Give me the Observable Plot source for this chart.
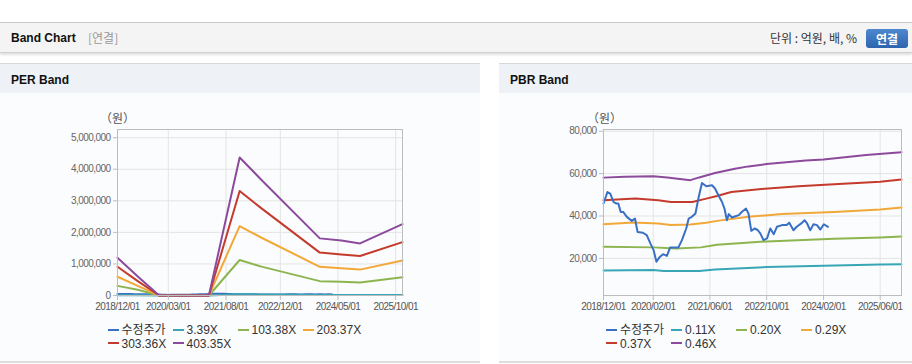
<!DOCTYPE html>
<html><head><meta charset="utf-8">
<script src="https://cdn.jsdelivr.net/npm/d3@7"></script>
<script src="https://cdn.jsdelivr.net/npm/@observablehq/plot@0.6"></script>
<style>
html,body{margin:0;padding:0}
body{width:912px;height:364px;position:relative;background:#fff;overflow:hidden;font-family:"Liberation Sans","Noto Sans CJK KR",sans-serif;color:#222}
.a{position:absolute}
#topbar{left:0;top:22px;width:912px;height:29px;background:#f4f4f4;border-top:1px solid #c8c8c8;border-bottom:1px solid #d0d0d0;box-shadow:0 2px 2px rgba(0,0,0,0.12)}
.title{font-weight:bold;font-size:12px;color:#111;white-space:nowrap}
.sub{font-size:12px;color:#999;white-space:nowrap}
.unit{font-size:12px;color:#333;white-space:nowrap;font-family:"Noto Sans CJK KR","Liberation Sans",sans-serif}
#btn{left:866px;top:29px;width:42px;height:19px;border-radius:3px;background:linear-gradient(#4d88cf,#2e65ae);color:#fff;font-weight:bold;font-size:12px;text-align:center;line-height:19px;font-family:"Noto Sans CJK KR",sans-serif}
.phead{top:63px;height:29px;background:#eef2f7;border-top:1px solid #d8d8d8}
.pbody{top:93px;height:268px;background:#fbfcfd;border-bottom:2px solid #dedede}
.unitlab{font-size:12px;color:#555;white-space:nowrap;font-family:"Noto Sans CJK KR",sans-serif}
.leg{font-size:12px;color:#333;white-space:nowrap;height:14px;line-height:14px}
.leg i{display:inline-block;width:11px;height:2px;vertical-align:middle;margin-right:3px;position:relative;top:-1px}
</style></head>
<body>
<div id="topbar" class="a"></div>
<div class="a title" style="left:11px;top:29px;line-height:18px">Band Chart</div>
<div class="a sub" style="left:88px;top:29px;line-height:18px;font-family:'Noto Sans CJK KR',sans-serif">[연결]</div>
<div class="a unit" style="left:770px;top:29px;line-height:18px">단위 : 억원, 배, %</div>
<div id="btn" class="a">연결</div>

<div class="a phead" style="left:0;width:480px"></div>
<div class="a pbody" style="left:0;width:480px"></div>
<div class="a phead" style="left:499px;width:413px"></div>
<div class="a pbody" style="left:499px;width:413px"></div>
<div class="a title" style="left:11px;top:71px;line-height:18px">PER Band</div>
<div class="a title" style="left:510px;top:71px;line-height:18px">PBR Band</div>
<div class="a unitlab" style="left:100px;top:109px;line-height:18px">（원）</div>
<div class="a unitlab" style="left:587px;top:109px;line-height:18px">（원）</div>

<div id="perChart" class="a" style="left:0;top:100px"></div>
<div id="pbrChart" class="a" style="left:499px;top:100px"></div>

<script>
// ---------- data ----------
const xStart = "2018-12-01", xEnd = "2025-12-01";
const perTickLabels = ["2018-12-01","2020-03-01","2021-08-01","2022-12-01","2024-05-01","2025-10-01"];
const pbrTickLabels = ["2018-12-01","2020-02-01","2021-06-01","2022-10-01","2024-02-01","2025-06-01"];
const perYTicks = [0, 1000000, 2000000, 3000000, 4000000, 5000000];
const pbrYTicks = [20000, 40000, 60000, 80000];

const seriesColors = ["#3a70c4", "#38a6b6", "#8db54f", "#f2a838", "#c43a2c", "#8c4a9c"];
const perNames = ["수정주가", "3.39X", "103.38X", "203.37X", "303.36X", "403.35X"];
const pbrNames = ["수정주가", "0.11X", "0.20X", "0.29X", "0.37X", "0.46X"];

// adjusted share price (원)
const price = [
 ["2018-12-01",45900],["2019-01-04",51300],["2019-01-28",50600],["2019-02-25",46600],["2019-03-19",45900],
 ["2019-04-07",45900],["2019-04-28",41900],["2019-05-19",41900],["2019-06-19",39600],["2019-08-01",37700],
 ["2019-08-28",38800],["2019-09-19",32500],["2019-11-04",32100],["2019-12-07",31000],["2020-01-07",27100],
 ["2020-02-04",23900],["2020-02-28",18400],["2020-03-25",20500],["2020-04-25",22000],["2020-05-28",21200],
 ["2020-06-25",25200],["2020-08-07",25200],["2020-09-04",25200],["2020-10-04",28600],["2020-11-10",34100],
 ["2020-12-01",38800],["2020-12-28",39600],["2021-01-28",41200],["2021-02-25",49000],["2021-03-25",55600],
 ["2021-05-01",54000],["2021-06-19",54500],["2021-07-15",53000],["2021-08-13",49800],["2021-09-13",46600],
 ["2021-10-04",43500],["2021-10-25",38000],["2021-11-10",40900],["2021-12-07",39300],["2022-01-07",39900],
 ["2022-02-04",40400],["2022-03-01",41900],["2022-04-07",43500],["2022-04-28",41200],["2022-05-22",33000],
 ["2022-06-19",34100],["2022-07-16",33400],["2022-08-07",31800],["2022-09-04",28600],["2022-10-04",29400],
 ["2022-11-01",34100],["2022-12-01",31400],["2022-12-28",34900],["2023-02-10",35700],["2023-03-22",35700],
 ["2023-04-13",36800],["2023-05-19",33300],["2023-06-16",34900],["2023-07-25",36500],["2023-08-22",38000],
 ["2023-09-10",36800],["2023-10-10",33300],["2023-11-07",36100],["2023-12-07",35700],["2024-01-04",33600],
 ["2024-02-04",36100],["2024-03-10",34900]
];

// PER band lines (원)
const perDates = ["2018-12-01","2019-06-01","2019-12-10","2021-02-28","2021-12-01","2022-06-15","2023-11-20","2024-06-01","2024-11-15","2025-12-01"];
const per339  = [10000,   5000,   0, 0,   36800,   30800,  15200,  14600,  13900,  19000];
const per10338 = [305000, 180000, 0, 0, 1125000,  915000, 455000, 435000, 410000, 580000];
const per20337 = [595000, 305000, 0, 0, 2200000, 1830000, 910000, 865000, 820000, 1110000];
const per30336 = [910000, 455000, 0, 0, 3310000, 2760000, 1360000, 1300000, 1250000, 1690000];
const per40335 = [1195000, 600000, 0, 0, 4375000, 3660000, 1810000, 1740000, 1650000, 2260000];

// PBR band lines (원)
const pbr011 = [["2018-12-01",14300],["2020-02-01",14500],["2020-05-01",14000],["2021-03-01",14000],["2021-07-15",14800],["2022-10-01",15900],["2024-02-01",16500],["2025-06-01",17100],["2025-12-01",17200]];
const pbr020 = [["2018-12-01",25500],["2020-02-01",25200],["2020-08-15",24700],["2021-03-15",25200],["2021-08-01",26400],["2022-10-01",28000],["2024-05-01",29300],["2025-06-01",29900],["2025-12-01",30300]];
const pbr029 = [["2018-12-01",36100],["2019-08-15",36900],["2020-03-15",36500],["2020-07-01",35700],["2020-12-15",36000],["2021-05-01",36800],["2021-08-01",37700],["2022-04-28",39600],["2023-02-10",40900],["2024-05-01",41900],["2025-06-01",43100],["2025-12-01",44000]];
const pbr037 = [["2018-12-01",47400],["2019-09-01",48200],["2020-03-15",47400],["2020-07-01",46600],["2021-01-01",46600],["2021-05-01",48200],["2021-08-01",49400],["2021-12-01",51300],["2022-09-15",52900],["2023-07-01",54000],["2024-05-01",55000],["2025-06-01",56200],["2025-12-01",57200]];
const pbr046 = [["2018-12-01",58100],["2019-06-01",58500],["2020-02-01",58800],["2020-06-01",58200],["2020-12-15",56900],["2021-03-01",58200],["2021-07-15",60300],["2022-01-01",62300],["2022-04-28",63400],["2022-10-01",64500],["2023-09-01",66200],["2024-02-01",66700],["2025-02-01",68800],["2025-12-01",70100]];

// ---------- build ----------
const D = s => new Date(s);
const fmtDate = d3.utcFormat("%Y/%m/%d");
const perSeries = [
  price.map(([d,v]) => ({date: D(d), value: v})),
  ...[per339, per10338, per20337, per30336, per40335].map(arr => perDates.map((d,i) => ({date: D(d), value: arr[i]})))
];
const pbrSeries = [
  price.map(([d,v]) => ({date: D(d), value: v})),
  ...[pbr011, pbr020, pbr029, pbr037, pbr046].map(arr => arr.map(([d,v]) => ({date: D(d), value: v})))
];

function chart(series, opts) {
  const xt = opts.xTicks.map(D);
  const lineMarks = series.map((s, i) => Plot.line(s, {x: "date", y: "value", stroke: seriesColors[i], strokeWidth: 2}));
  return Plot.plot({
    width: opts.width, height: 215,
    marginLeft: opts.ml, marginRight: opts.mr, marginTop: 29, marginBottom: 20,
    style: {background: "transparent", fontFamily: "'Liberation Sans',Arial,sans-serif", fontSize: "10px", letterSpacing: "-0.55px", overflow: "visible"},
    x: {type: "utc", domain: [D(xStart), D(xEnd)]},
    y: {domain: opts.yDomain},
    marks: [
      Plot.gridX(xt, {stroke: "#e4e4e4", strokeOpacity: 1}),
      Plot.gridY(opts.yTicks, {stroke: "#e4e4e4", strokeOpacity: 1}),
      ...opts.order.map(i => lineMarks[i]),
      Plot.frame({stroke: "#bdbdbd"}),
      Plot.axisX(xt, {tickFormat: fmtDate, tickSize: 5, tickPadding: 2, stroke: "#bdbdbd", fill: "#555", label: null, fontSize: 10}),
      Plot.axisY(opts.yTicks, {tickFormat: d3.format(","), tickSize: 4, tickPadding: 3, stroke: "#bdbdbd", fill: "#666", label: null, fontSize: 10})
    ]
  });
}

document.getElementById("perChart").append(chart(perSeries, {
  width: 480, ml: 117, mr: 78, xTicks: perTickLabels, yTicks: perYTicks, yDomain: [0, 5260000], order: [0,1,2,3,4,5]
}));
document.getElementById("pbrChart").append(chart(pbrSeries, {
  width: 413, ml: 104, mr: 11, xTicks: pbrTickLabels, yTicks: pbrYTicks, yDomain: [2500, 80800], order: [1,2,3,4,5,0]
}));

function legend(names, left, top) {
  const cols = [0, 65, 130, 195];
  names.forEach((n, i) => {
    const el = document.createElement("div");
    el.className = "a leg";
    el.style.left = (left + cols[i % 4]) + "px";
    el.style.top = (top + Math.floor(i / 4) * 13.5) + "px";
    el.innerHTML = `<i style="background:${seriesColors[i]}"></i>${n}`;
    document.body.append(el);
  });
}
legend(perNames, 107.5, 323);
legend(pbrNames, 606, 323);
</script>
</body></html>
